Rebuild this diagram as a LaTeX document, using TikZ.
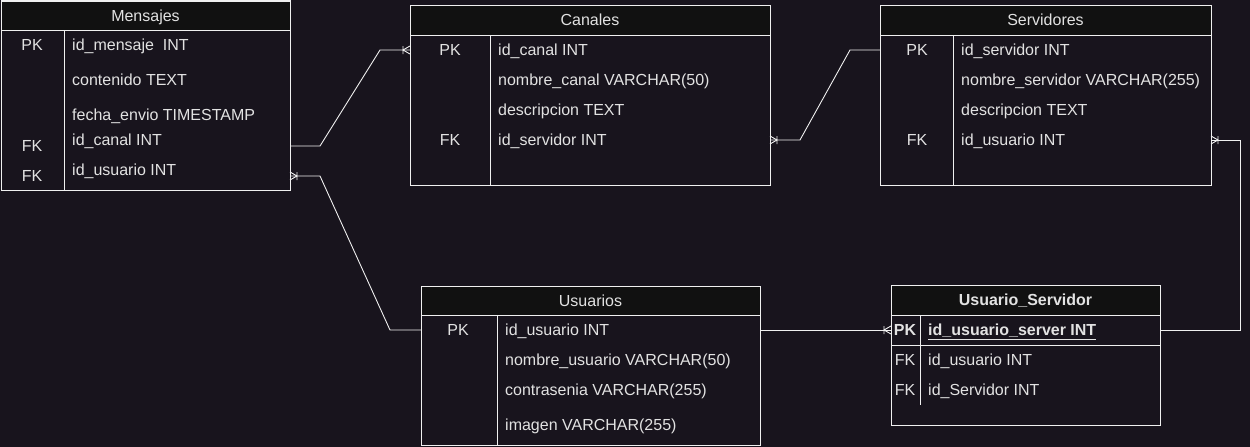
\documentclass[tikz,border=0pt]{standalone}
\usepackage{fontspec}
\setmainfont{Liberation Sans}
\usepackage{tikz}
\definecolor{bgdark}{RGB}{24,20,29}
\definecolor{headfill}{RGB}{17,17,17}
\definecolor{edgewhite}{RGB}{240,240,240}
\definecolor{txtgray}{RGB}{226,226,226}

% crow's foot with bar (one or many)
\pgfdeclarearrow{
  name = crow,
  setup code = {
    \pgfarrowssettipend{0pt}
    \pgfarrowssetlineend{0pt}
    \pgfarrowssetbackend{-7pt}
    \pgfarrowsupperhullpoint{0pt}{4pt}
    \pgfarrowsupperhullpoint{-7pt}{4pt}
  },
  drawing code = {
    \pgfpathmoveto{\pgfpoint{0pt}{4pt}}
    \pgfpathlineto{\pgfpoint{-7pt}{0pt}}
    \pgfpathlineto{\pgfpoint{0pt}{-4pt}}
    \pgfpathmoveto{\pgfpoint{-7pt}{4pt}}
    \pgfpathlineto{\pgfpoint{-7pt}{-4pt}}
    \pgfusepathqstroke
  },
}

\begin{document}
\begin{tikzpicture}[
  x=1pt,y=-1pt,
  tbl/.style={draw=edgewhite,line width=1pt,anchor=north west,inner sep=0pt,outer sep=0pt},
  tblhead/.style={tbl,fill=headfill,text=txtgray,font=\fontsize{16}{19}\selectfont,
    text height=11.5pt,text depth=0pt},
  fld/.style={anchor=west,inner sep=0pt,text=txtgray,font=\fontsize{16}{19}\selectfont,
    text height=11.5pt,text depth=0pt},
  keycol/.style={inner sep=0pt,text=txtgray,font=\fontsize{16}{19}\selectfont,
    text height=11.5pt,text depth=0pt},
  rule/.style={draw=edgewhite,line width=1pt},
  conn/.style={draw=edgewhite,line width=0.9pt},
  ]
  \fill[bgdark] (0,0) rectangle (1250,447);
  \useasboundingbox (0,0) rectangle (1250,447);

  %Mensajes
  \node[tbl,minimum width=289pt,minimum height=189pt](mensajes) at (1,1){};
  \node[tblhead,minimum width=289pt,minimum height=29pt](mensajesH) at (1,1){Mensajes};
  \draw[rule] (64,30) -- (64,190);
  \node[keycol](mk1) at (32,45){PK};
  \node[keycol](mk4) at (32,146){FK};
  \node[keycol](mk5) at (32,176){FK};
  \node[fld](mf1) at (72,45){id\_mensaje~ INT};
  \node[fld](mf2) at (72,80){contenido TEXT};
  \node[fld](mf3) at (72,115){fecha\_envio TIMESTAMP};
  \node[fld](mf4) at (72,140){id\_canal INT};
  \node[fld](mf5) at (72,170){id\_usuario INT};

  %Canales
  \node[tbl,minimum width=360pt,minimum height=180pt](canales) at (410,5){};
  \node[tblhead,minimum width=360pt,minimum height=30pt](canalesH) at (410,5){Canales};
  \draw[rule] (490,35) -- (490,185);
  \node[keycol](ck1) at (450,50){PK};
  \node[keycol](ck4) at (450,140){FK};
  \node[fld](cf1) at (498,50){id\_canal INT};
  \node[fld](cf2) at (498,80){nombre\_canal VARCHAR(50)};
  \node[fld](cf3) at (498,110){descripcion TEXT};
  \node[fld](cf4) at (498,140){id\_servidor INT};

  %Servidores
  \node[tbl,minimum width=331pt,minimum height=180pt](servidores) at (880,5){};
  \node[tblhead,minimum width=331pt,minimum height=30pt](servidoresH) at (880,5){Servidores};
  \draw[rule] (953,35) -- (953,185);
  \node[keycol](sk1) at (917,50){PK};
  \node[keycol](sk4) at (917,140){FK};
  \node[fld](sf1) at (961,50){id\_servidor INT};
  \node[fld](sf2) at (961,80){nombre\_servidor VARCHAR(255)};
  \node[fld](sf3) at (961,110){descripcion TEXT};
  \node[fld](sf4) at (961,140){id\_usuario INT};

  %Usuarios
  \node[tbl,minimum width=339pt,minimum height=159pt](usuarios) at (421,286){};
  \node[tblhead,minimum width=339pt,minimum height=29pt](usuariosH) at (421,286){Usuarios};
  \draw[rule] (497,315) -- (497,445);
  \node[keycol](uk1) at (458,330){PK};
  \node[fld](uf1) at (505,330){id\_usuario INT};
  \node[fld](uf2) at (505,360){nombre\_usuario VARCHAR(50)};
  \node[fld](uf3) at (505,390){contrasenia VARCHAR(255)};
  \node[fld](uf4) at (505,425){imagen VARCHAR(255)};

  %Usuario_Servidor
  \node[tbl,minimum width=269pt,minimum height=140pt](usrsrv) at (891,285){};
  \node[tblhead,minimum width=269pt,minimum height=30pt,font=\fontsize{16}{19}\selectfont\bfseries](usrsrvH)
    at (891,285){Usuario\_Servidor};
  \draw[rule] (891,345) -- (1160,345);
  \draw[rule] (920,315) -- (920,405);
  \node[keycol,font=\fontsize{16}{19}\selectfont\bfseries](usk1) at (905,330){PK};
  \node[keycol](usk2) at (905,360){FK};
  \node[keycol](usk3) at (905,390){FK};
  \node[fld,font=\fontsize{16}{19}\selectfont\bfseries](usf1) at (928,330){\underline{id\_usuario\_server INT}};
  \node[fld](usf2) at (928,360){id\_usuario INT};
  \node[fld](usf3) at (928,390){id\_Servidor INT};

  %Lines
  \draw[conn,-crow] (mensajes.east |- mk4) -- ++(30,0)
    -- ([xshift=-30pt]canales.west |- ck1) -- (canales.west |- ck1);
  \draw[conn,crow-] (mensajes.east |- mk5) -- ++(30,0)
    -- ([xshift=-31pt]usuarios.west |- uk1) -- (usuarios.west |- uk1);
  \draw[conn,crow-] (canales.east |- ck4) -- ++(30,0)
    -- ([xshift=-30pt]servidores.west |- sk1) -- (servidores.west |- sk1);
  \draw[conn,crow-] (servidores.east |- sk4) -- ++(29,0) |- (usrsrv.east |- usk1);
  \draw[conn,-crow] (usuarios.east |- uk1) -- (usrsrv.west |- usk1);
\end{tikzpicture}
\end{document}
